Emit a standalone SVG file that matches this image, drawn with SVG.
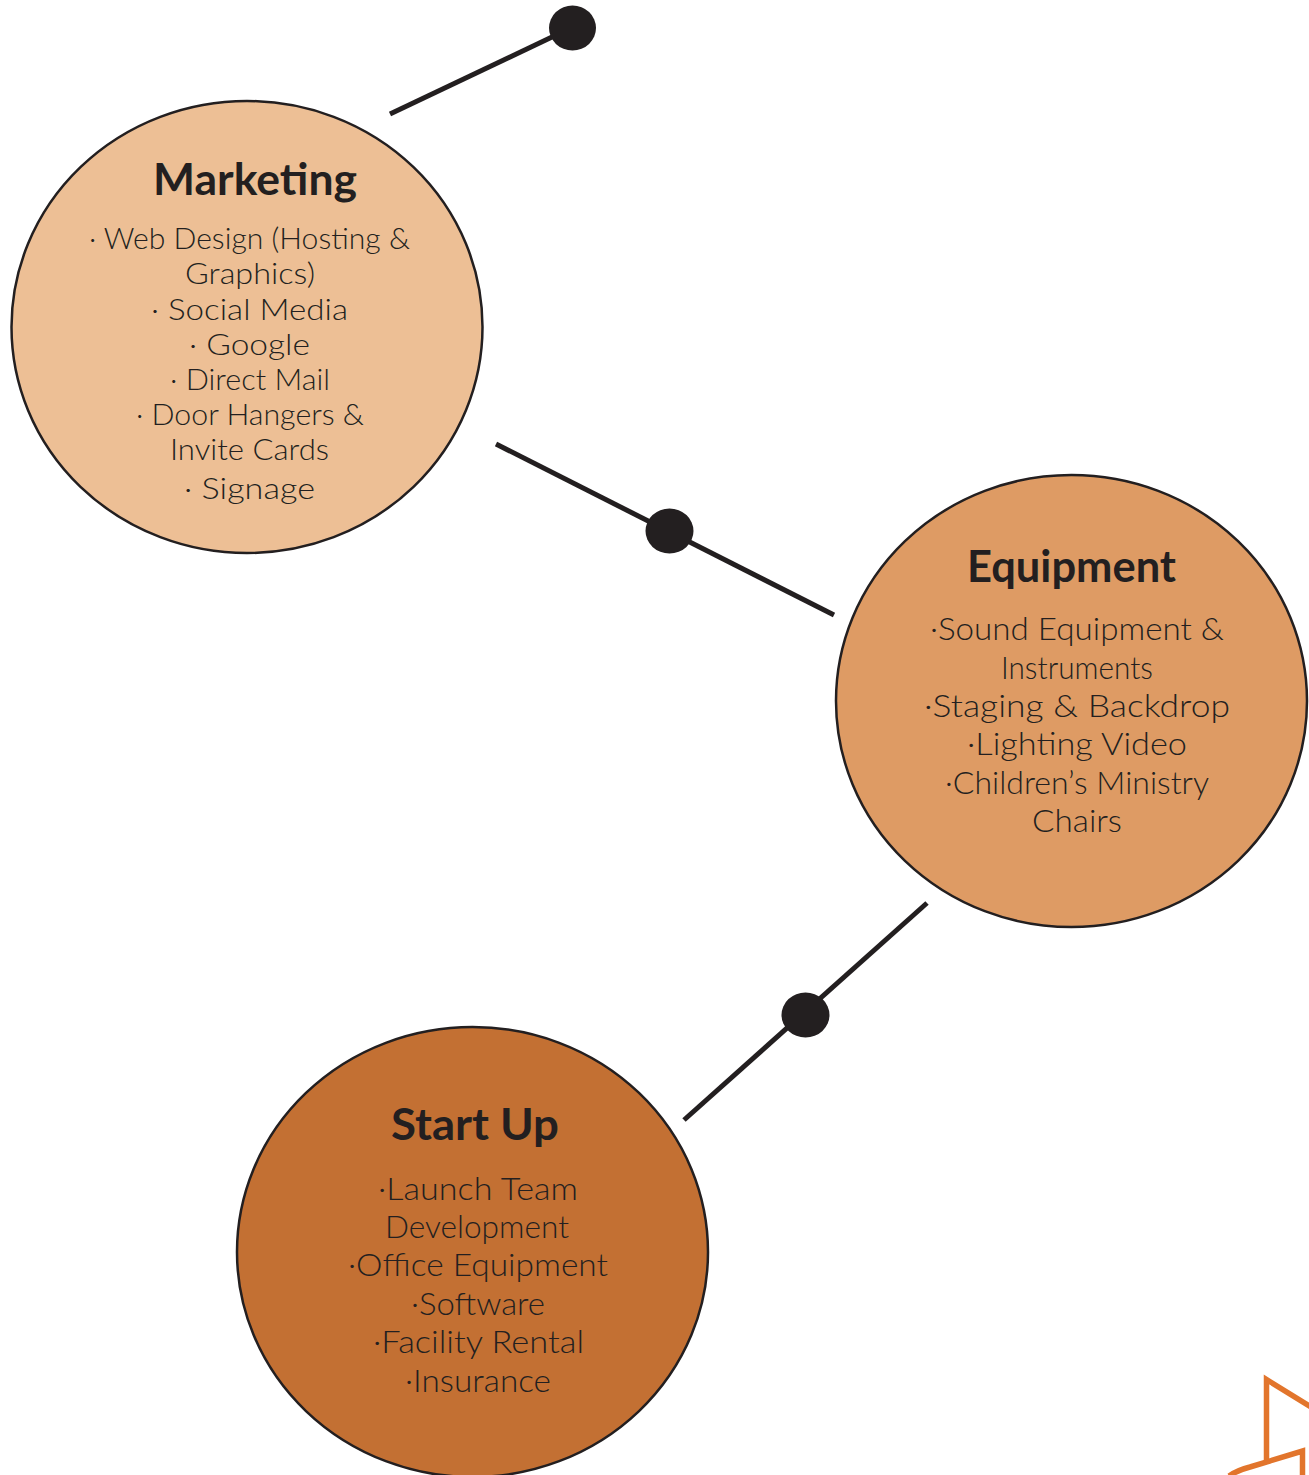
<svg xmlns="http://www.w3.org/2000/svg" width="1309" height="1475" viewBox="0 0 1309 1475">
<style>
.c{stroke:#231f20;stroke-width:2.5}
.l{stroke:#231f20;stroke-width:5;fill:none}
.d{fill:#231f20}
.t{font-family:"Lato","Liberation Sans",sans-serif;font-weight:700;font-size:44px;fill:#231f20;text-anchor:start}
.b{font-family:"Lato","Liberation Sans",sans-serif;font-weight:300;font-size:31px;fill:#231f20;text-anchor:start}
.m{font-size:29px}
.o{stroke:#e2752c;stroke-width:5.500;fill:none}
</style>
<rect width="1309" height="1475" fill="#fff"/>
<g id="connectors">
<path class="l" d="M390 114L573 27"/>
<path class="l" d="M496 444L834 615"/>
<path class="l" d="M684 1120L927 903"/>
<ellipse class="d" cx="572.500" cy="28" rx="23.500" ry="22.500"/>
<ellipse class="d" cx="669.500" cy="531" rx="24" ry="22.500"/>
<ellipse class="d" cx="805.500" cy="1015" rx="24" ry="22.500"/>
</g>
<g id="marketing">
<ellipse class="c" cx="247" cy="327" rx="235.500" ry="226" fill="#edbf95"/>
<text class="t" x="153" y="195" textLength="204" lengthAdjust="spacingAndGlyphs">Marketing</text>
<text class="b m" x="89" y="249" textLength="321" lengthAdjust="spacingAndGlyphs">· Web Design (Hosting &amp;</text>
<text class="b m" x="185" y="284" textLength="130" lengthAdjust="spacingAndGlyphs">Graphics)</text>
<text class="b m" x="151" y="320" textLength="197" lengthAdjust="spacingAndGlyphs">· Social Media</text>
<text class="b m" x="189" y="355" textLength="121" lengthAdjust="spacingAndGlyphs">· Google</text>
<text class="b m" x="170" y="390" textLength="160" lengthAdjust="spacingAndGlyphs">· Direct Mail</text>
<text class="b m" x="136" y="425" textLength="228" lengthAdjust="spacingAndGlyphs">· Door Hangers &amp;</text>
<text class="b m" x="170" y="460" textLength="159" lengthAdjust="spacingAndGlyphs">Invite Cards</text>
<text class="b m" x="184" y="499" textLength="131" lengthAdjust="spacingAndGlyphs">· Signage</text>
</g>
<g id="equipment">
<ellipse class="c" cx="1071.500" cy="701" rx="235.500" ry="226" fill="#de9b64"/>
<text class="t" x="967" y="582" textLength="209" lengthAdjust="spacingAndGlyphs">Equipment</text>
<text class="b" x="930" y="640" textLength="294" lengthAdjust="spacingAndGlyphs">·Sound Equipment &amp;</text>
<text class="b" x="1001" y="679" textLength="152" lengthAdjust="spacingAndGlyphs">Instruments</text>
<text class="b" x="924" y="717" textLength="306" lengthAdjust="spacingAndGlyphs">·Staging &amp; Backdrop</text>
<text class="b" x="967" y="755" textLength="220" lengthAdjust="spacingAndGlyphs">·Lighting Video</text>
<text class="b" x="945" y="794" textLength="264" lengthAdjust="spacingAndGlyphs">·Children’s Ministry</text>
<text class="b" x="1032" y="832" textLength="90" lengthAdjust="spacingAndGlyphs">Chairs</text>
</g>
<g id="start-up">
<ellipse class="c" cx="472.500" cy="1252" rx="235.500" ry="225" fill="#c37033"/>
<text class="t" x="391" y="1140" textLength="168" lengthAdjust="spacingAndGlyphs">Start Up</text>
<text class="b" x="378" y="1200" textLength="200" lengthAdjust="spacingAndGlyphs">·Launch Team</text>
<text class="b" x="385" y="1238" textLength="184" lengthAdjust="spacingAndGlyphs">Development</text>
<text class="b" x="348" y="1276" textLength="260" lengthAdjust="spacingAndGlyphs">·Office Equipment</text>
<text class="b" x="411" y="1315" textLength="134" lengthAdjust="spacingAndGlyphs">·Software</text>
<text class="b" x="373" y="1353" textLength="211" lengthAdjust="spacingAndGlyphs">·Facility Rental</text>
<text class="b" x="405" y="1392" textLength="146" lengthAdjust="spacingAndGlyphs">·Insurance</text>
</g>
<g id="logo">
<path class="o" d="M1266.500 1462V1379.500L1312 1407.500"/>
<path class="o" d="M1229 1476Q1238 1470 1250 1467L1302.500 1451V1478"/>
</g>
</svg>
